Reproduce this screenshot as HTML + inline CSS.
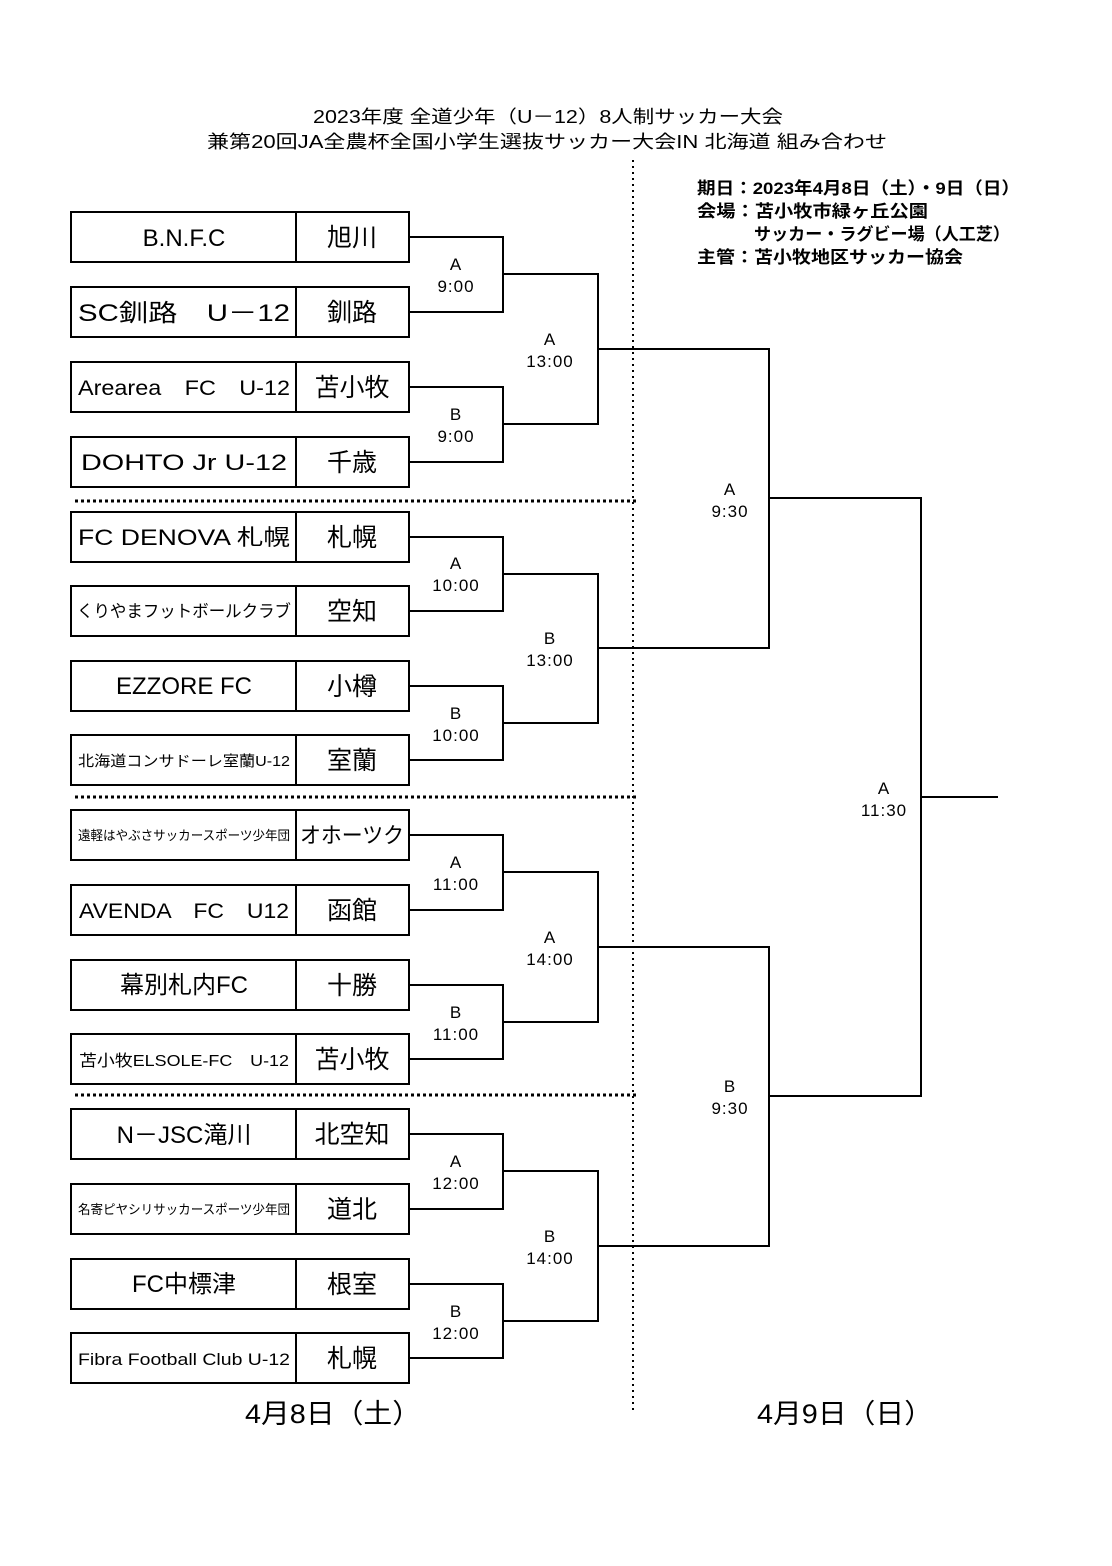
<!DOCTYPE html>
<html><head><meta charset="utf-8"><style>
html,body{margin:0;padding:0;background:#fff;}
svg{display:block;}
text{font-family:"Liberation Sans","Noto Sans CJK JP",sans-serif;fill:#000;}
</style></head><body>
<svg width="1112" height="1566" viewBox="0 0 1112 1566" xmlns="http://www.w3.org/2000/svg">
<text x="313" y="123" font-size="18" textLength="470" lengthAdjust="spacingAndGlyphs">2023年度 全道少年（U－12）8人制サッカー大会</text>
<text x="207" y="148" font-size="18" textLength="680" lengthAdjust="spacingAndGlyphs">兼第20回JA全農杯全国小学生選抜サッカー大会IN 北海道 組み合わせ</text>
<g font-size="17" font-weight="bold">
<text x="697" y="194" textLength="323" lengthAdjust="spacingAndGlyphs">期日：2023年4月8日（土）・9日（日）</text>
<text x="697" y="217" textLength="231" lengthAdjust="spacingAndGlyphs">会場：苫小牧市緑ヶ丘公園</text>
<text x="754" y="240" textLength="256" lengthAdjust="spacingAndGlyphs">サッカー・ラグビー場（人工芝）</text>
<text x="697" y="263" textLength="266" lengthAdjust="spacingAndGlyphs">主管：苫小牧地区サッカー協会</text>
</g>
<g fill="none" stroke="#000" stroke-width="2">
<rect x="71" y="212" width="338" height="50"/><line x1="296" y1="212" x2="296" y2="262"/>
<rect x="71" y="287" width="338" height="50"/><line x1="296" y1="287" x2="296" y2="337"/>
<rect x="71" y="362" width="338" height="50"/><line x1="296" y1="362" x2="296" y2="412"/>
<rect x="71" y="437" width="338" height="50"/><line x1="296" y1="437" x2="296" y2="487"/>
<rect x="71" y="512" width="338" height="50"/><line x1="296" y1="512" x2="296" y2="562"/>
<rect x="71" y="586" width="338" height="50"/><line x1="296" y1="586" x2="296" y2="636"/>
<rect x="71" y="661" width="338" height="50"/><line x1="296" y1="661" x2="296" y2="711"/>
<rect x="71" y="735" width="338" height="50"/><line x1="296" y1="735" x2="296" y2="785"/>
<rect x="71" y="810" width="338" height="50"/><line x1="296" y1="810" x2="296" y2="860"/>
<rect x="71" y="885" width="338" height="50"/><line x1="296" y1="885" x2="296" y2="935"/>
<rect x="71" y="960" width="338" height="50"/><line x1="296" y1="960" x2="296" y2="1010"/>
<rect x="71" y="1034" width="338" height="50"/><line x1="296" y1="1034" x2="296" y2="1084"/>
<rect x="71" y="1109" width="338" height="50"/><line x1="296" y1="1109" x2="296" y2="1159"/>
<rect x="71" y="1184" width="338" height="50"/><line x1="296" y1="1184" x2="296" y2="1234"/>
<rect x="71" y="1259" width="338" height="50"/><line x1="296" y1="1259" x2="296" y2="1309"/>
<rect x="71" y="1333" width="338" height="50"/><line x1="296" y1="1333" x2="296" y2="1383"/>
<polyline points="409,237 503,237 503,312 409,312"/>
<polyline points="409,387 503,387 503,462 409,462"/>
<polyline points="409,537 503,537 503,611 409,611"/>
<polyline points="409,686 503,686 503,760 409,760"/>
<polyline points="409,835 503,835 503,910 409,910"/>
<polyline points="409,985 503,985 503,1059 409,1059"/>
<polyline points="409,1134 503,1134 503,1209 409,1209"/>
<polyline points="409,1284 503,1284 503,1358 409,1358"/>
<polyline points="503,274 598,274 598,424 503,424"/>
<polyline points="503,574 598,574 598,723 503,723"/>
<polyline points="503,872 598,872 598,1022 503,1022"/>
<polyline points="503,1171 598,1171 598,1321 503,1321"/>
<polyline points="598,349 769,349 769,648 598,648"/>
<polyline points="598,947 769,947 769,1246 598,1246"/>
<polyline points="769,498 921,498 921,1096 769,1096"/>
<line x1="921" y1="797" x2="998" y2="797"/>
</g>
<g stroke="#000" stroke-width="3" stroke-dasharray="3,3" fill="none">
<line x1="75" y1="501" x2="636" y2="501"/>
<line x1="75" y1="797" x2="636" y2="797"/>
<line x1="75" y1="1095" x2="636" y2="1095"/>
</g>
<line x1="633" y1="160" x2="633" y2="1412" stroke="#000" stroke-width="2" stroke-dasharray="2,4"/>
<g text-anchor="middle">
<text x="184" y="246" font-size="24">B.N.F.C</text>
<text x="184" y="321" font-size="24" textLength="212" lengthAdjust="spacingAndGlyphs">SC釧路　U－12</text>
<text x="184" y="395" font-size="21" textLength="212" lengthAdjust="spacingAndGlyphs">Arearea　FC　U-12</text>
<text x="184" y="470" font-size="22" textLength="206" lengthAdjust="spacingAndGlyphs">DOHTO Jr U-12</text>
<text x="184" y="545" font-size="22" textLength="212" lengthAdjust="spacingAndGlyphs">FC DENOVA 札幌</text>
<text x="184" y="617" font-size="17" textLength="214" lengthAdjust="spacingAndGlyphs">くりやまフットボールクラブ</text>
<text x="184" y="694" font-size="24">EZZORE FC</text>
<text x="184" y="766" font-size="15" textLength="212" lengthAdjust="spacingAndGlyphs">北海道コンサドーレ室蘭U-12</text>
<text x="184" y="840" font-size="13" textLength="212" lengthAdjust="spacingAndGlyphs">遠軽はやぶさサッカースポーツ少年団</text>
<text x="184" y="918" font-size="21" textLength="210" lengthAdjust="spacingAndGlyphs">AVENDA　FC　U12</text>
<text x="184" y="993" font-size="24">幕別札内FC</text>
<text x="184" y="1066" font-size="16" textLength="210" lengthAdjust="spacingAndGlyphs">苫小牧ELSOLE-FC　U-12</text>
<text x="184" y="1143" font-size="24">N－JSC滝川</text>
<text x="184" y="1214" font-size="13" textLength="212" lengthAdjust="spacingAndGlyphs">名寄ピヤシリサッカースポーツ少年団</text>
<text x="184" y="1292" font-size="24">FC中標津</text>
<text x="184" y="1365" font-size="17" textLength="212" lengthAdjust="spacingAndGlyphs">Fibra Football Club U-12</text>
</g>
<g text-anchor="middle" font-size="25">
<text x="352" y="246">旭川</text>
<text x="352" y="321">釧路</text>
<text x="352" y="396">苫小牧</text>
<text x="352" y="471">千歳</text>
<text x="352" y="546">札幌</text>
<text x="352" y="620">空知</text>
<text x="352" y="695">小樽</text>
<text x="352" y="769">室蘭</text>
<text x="352" y="843" font-size="22" textLength="104" lengthAdjust="spacingAndGlyphs">オホーツク</text>
<text x="352" y="919">函館</text>
<text x="352" y="994">十勝</text>
<text x="352" y="1068">苫小牧</text>
<text x="352" y="1143">北空知</text>
<text x="352" y="1218">道北</text>
<text x="352" y="1293">根室</text>
<text x="352" y="1367">札幌</text>
</g>
<g text-anchor="middle" font-size="17" letter-spacing="1">
<text x="456" y="270">A</text><text x="456" y="292">9:00</text>
<text x="456" y="420">B</text><text x="456" y="442">9:00</text>
<text x="456" y="569">A</text><text x="456" y="591">10:00</text>
<text x="456" y="719">B</text><text x="456" y="741">10:00</text>
<text x="456" y="868">A</text><text x="456" y="890">11:00</text>
<text x="456" y="1018">B</text><text x="456" y="1040">11:00</text>
<text x="456" y="1167">A</text><text x="456" y="1189">12:00</text>
<text x="456" y="1317">B</text><text x="456" y="1339">12:00</text>
<text x="550" y="345">A</text><text x="550" y="367">13:00</text>
<text x="550" y="644">B</text><text x="550" y="666">13:00</text>
<text x="550" y="943">A</text><text x="550" y="965">14:00</text>
<text x="550" y="1242">B</text><text x="550" y="1264">14:00</text>
<text x="730" y="495">A</text><text x="730" y="517">9:30</text>
<text x="730" y="1092">B</text><text x="730" y="1114">9:30</text>
<text x="884" y="794">A</text><text x="884" y="816">11:30</text>
</g>
<text x="245" y="1423" font-size="27" textLength="176" lengthAdjust="spacingAndGlyphs">4月8日（土）</text>
<text x="757" y="1423" font-size="27" textLength="176" lengthAdjust="spacingAndGlyphs">4月9日（日）</text>
</svg>
</body></html>
